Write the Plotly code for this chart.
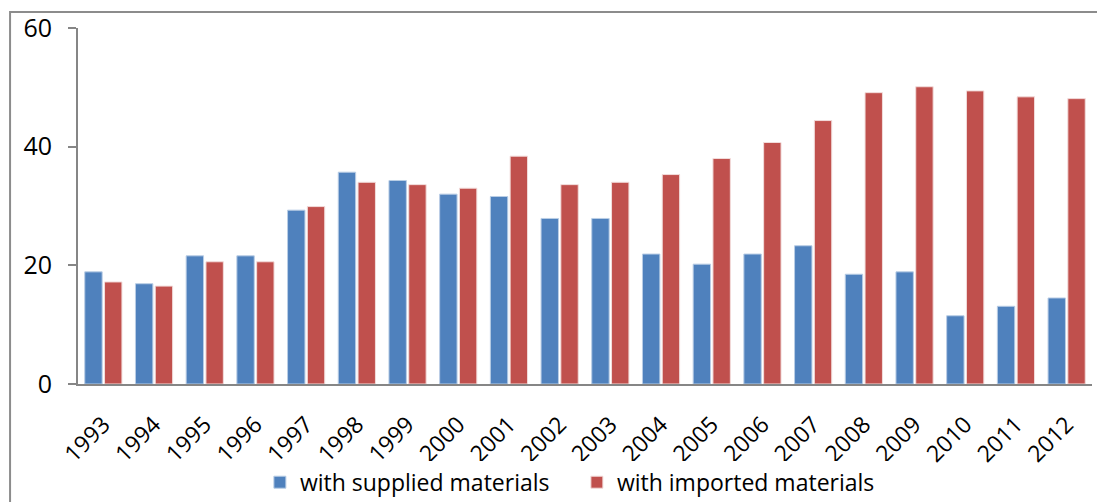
import plotly.graph_objects as go

years = [str(y) for y in range(1993, 2013)]
supplied = [18.9, 16.9, 21.6, 21.6, 29.3, 35.7, 34.3, 32.0, 31.6, 27.9,
            27.9, 21.9, 20.2, 21.9, 23.3, 18.5, 18.9, 11.5, 13.1, 14.5]
imported = [17.2, 16.5, 20.6, 20.6, 29.9, 34.0, 33.6, 33.0, 38.4, 33.6,
            34.0, 35.3, 38.0, 40.7, 44.4, 49.1, 50.1, 49.4, 48.4, 48.1]

fig = go.Figure()
fig.add_trace(go.Bar(
    x=years, y=supplied, name="with supplied materials",
    marker=dict(color="#4F81BD", line=dict(color="#B9CDE5", width=1))
))
fig.add_trace(go.Bar(
    x=years, y=imported, name="with imported materials",
    marker=dict(color="#C0504D", line=dict(color="#F2DCDB", width=1))
))

# the page body adds an 8px offset, margins compensate for it
fig.update_layout(
    width=1097, height=494,
    margin=dict(l=70, r=13, t=20, b=118, autoexpand=False),
    paper_bgcolor="white", plot_bgcolor="white",
    barmode="group", bargap=0.22, bargroupgap=0.12,
    font=dict(family="Open Sans", size=22, color="#000000"),
    showlegend=True,
    legend=dict(orientation="h", x=0.492, xanchor="center",
                yref="container", y=0.04, yanchor="middle",
                font=dict(family="Open Sans", size=23), itemwidth=30,
                entrywidth=272),
    xaxis=dict(tickangle=-45, showline=True, linecolor="#868686", linewidth=2,
               ticks="", showgrid=False, ticklabelstandoff=16,
               tickfont=dict(family="Open Sans", size=23, color="#000000")),
    yaxis=dict(range=[0, 60], tickvals=[0, 20, 40, 60], showline=True,
               linecolor="#868686", linewidth=2, ticks="outside", ticklen=8,
               tickcolor="#868686", tickwidth=2, showgrid=False, zeroline=False,
               ticklabelstandoff=11,
               tickfont=dict(family="Open Sans", size=25, color="#000000")),
    shapes=[dict(type="rect", xref="paper", yref="paper",
                 x0=-0.067, x1=1.05, y0=-0.4, y1=1.045,
                 line=dict(color="#8C8C8C", width=2), layer="below")],
)

fig.write_html("out.html")
